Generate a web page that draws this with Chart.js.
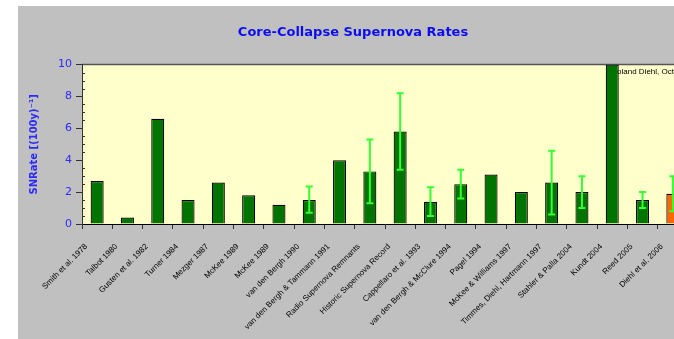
<!DOCTYPE html>
<html>
<head>
<meta charset="utf-8">
<title>Core-Collapse Supernova Rates</title>
<script src="https://cdn.jsdelivr.net/npm/chart.js@4.4.0/dist/chart.umd.min.js"></script>
<style>
  html, body { margin: 0; padding: 0; background: #fff; overflow: hidden; width: 674px; height: 339px; }
  #wrap { position: absolute; left: 18px; top: 6px; width: 700px; height: 333px; background: #c0c0c0; }
</style>
</head>
<body>
<div id="wrap"><canvas id="chart" width="700" height="333"></canvas></div>
<script>
// Published rate estimates, in supernovae per century
const studies = [
  'Smith et al. 1978', 'Talbot 1980', 'Gusten et al. 1982', 'Turner 1984', 'Mezger 1987',
  'McKee 1989', 'McKee 1989', 'van den Bergh 1990', 'van den Bergh & Tammann 1991',
  'Radio Supernova Remnants', 'Historic Supernova Record', 'Cappellaro et al. 1993',
  'van den Bergh & McClure 1994', 'Pagel 1994', 'McKee & Williams 1997',
  'Timmes, Diehl, Hartmann 1997', 'Stahler & Palla 2004', 'Kundt 2004', 'Reed 2005',
  'Diehl et al. 2006'
];
const rates   = [2.7, 0.4, 6.6, 1.5, 2.6, 1.8, 1.2, 1.5, 4.0, 3.3, 5.8, 1.4, 2.5, 3.1, 2.0, 2.6, 2.0, 10, 1.5, 1.9];
const errLow  = [null, null, null, null, null, null, null, 0.7, null, 1.3, 3.4, 0.5, 1.6, null, null, 0.6, 1.0, null, 1.0, 0.8];
const errHigh = [null, null, null, null, null, null, null, 2.35, null, 5.3, 8.2, 2.3, 3.4, null, null, 4.6, 3.0, null, 2.0, 3.0];
const yTicks  = [0, 2, 4, 6, 8, 10];
const credit  = 'Roland Diehl, Oct 2006';

const highlight = studies.length - 1; // our own measurement
const barFill = rates.map((v, i) => i === highlight ? '#ff6600' : '#007400');

// plot background, frame, minor ticks, credit line and error bars
const decor = {
  id: 'decor',
  beforeDraw(chart) {
    const { ctx, chartArea: a } = chart;
    ctx.save();
    ctx.fillStyle = '#ffffcc';
    ctx.fillRect(a.left, a.top, a.right - a.left, a.bottom - a.top);
    ctx.strokeStyle = '#555';
    ctx.lineWidth = 1.5;
    ctx.beginPath();
    ctx.moveTo(a.left, a.top);
    ctx.lineTo(a.right, a.top);
    ctx.stroke();
    ctx.restore();
  },
  beforeDatasetsDraw(chart) {
    const { ctx, scales: { x, y } } = chart;
    ctx.save();
    ctx.fillStyle = '#000';
    ctx.font = '8px "Liberation Sans", Arial, sans-serif';
    ctx.textBaseline = 'middle';
    ctx.fillText(credit, x.getPixelForValue(studies.length - 3) - 1, y.getPixelForValue(9.55));
    ctx.restore();
  },
  afterDatasetsDraw(chart) {
    const { ctx, chartArea: a, scales: { x, y } } = chart;
    ctx.save();
    // minor ticks on the rate axis
    ctx.strokeStyle = '#333';
    ctx.lineWidth = 1;
    for (let v = 0.5; v < 10; v += 0.5) {
      if (v % 2 === 0) continue;
      const py = Math.round(y.getPixelForValue(v)) + 0.5;
      ctx.beginPath();
      ctx.moveTo(a.left, py);
      ctx.lineTo(a.left + 3, py);
      ctx.stroke();
    }
    // error bars
    ctx.strokeStyle = '#33ff33';
    ctx.lineWidth = 2;
    rates.forEach((r, i) => {
      if (errLow[i] == null) return;
      const px = x.getPixelForValue(i);
      const lo = y.getPixelForValue(errLow[i]);
      const hi = y.getPixelForValue(errHigh[i]);
      ctx.beginPath();
      ctx.moveTo(px, lo); ctx.lineTo(px, hi);
      ctx.moveTo(px - 3.5, lo); ctx.lineTo(px + 3.5, lo);
      ctx.moveTo(px - 3.5, hi); ctx.lineTo(px + 3.5, hi);
      ctx.stroke();
    });
    ctx.restore();
  }
};

new Chart(document.getElementById('chart'), {
  type: 'bar',
  data: {
    labels: studies,
    datasets: [{
      data: rates,
      backgroundColor: barFill,
      borderColor: '#000',
      borderWidth: 1.2,
      borderSkipped: 'bottom',
      categoryPercentage: 1,
      barPercentage: 0.43
    }]
  },
  options: {
    responsive: false,
    animation: false,
    layout: { padding: { left: 0, right: 30, top: 0, bottom: 0 } },
    plugins: {
      legend: { display: false },
      tooltip: { enabled: false },
      title: {
        display: true,
        text: 'Core-Collapse Supernova Rates',
        color: '#0c0cf0',
        font: { family: '"Comic Sans MS", "DejaVu Sans", sans-serif', size: 13, weight: 'bold', lineHeight: 1.2 },
        padding: { top: 19, bottom: 24 }
      }
    },
    scales: {
      x: {
        offset: true,
        grid: { offset: true, drawOnChartArea: false, tickLength: 5, color: '#333' },
        border: { color: '#000', width: 1 },
        ticks: {
          autoSkip: false,
          minRotation: 45,
          maxRotation: 45,
          padding: 13,
          labelOffset: -11,
          color: '#000',
          font: { family: '"Liberation Sans", Arial, sans-serif', size: 8 }
        },
        afterFit(scale) { scale.height = 115; }
      },
      y: {
        min: 0,
        max: 10,
        afterBuildTicks(scale) { scale.ticks = yTicks.map(v => ({ value: v })); },
        grid: { drawOnChartArea: false, tickLength: 6, color: '#333' },
        border: { color: '#333', width: 1 },
        ticks: {
          padding: 4,
          color: '#2a2aff',
          font: { family: '"DejaVu Sans", sans-serif', size: 11 }
        },
        title: {
          display: true,
          text: 'SNRate [(100y)\u207B\u00B9]',
          color: '#2a2aff',
          font: { family: '"DejaVu Sans", sans-serif', size: 10, weight: 'bold' },
          padding: { top: 10, bottom: 0 }
        },
        afterFit(scale) { scale.width = 64; }
      }
    }
  },
  plugins: [decor]
});
</script>
</body>
</html>
